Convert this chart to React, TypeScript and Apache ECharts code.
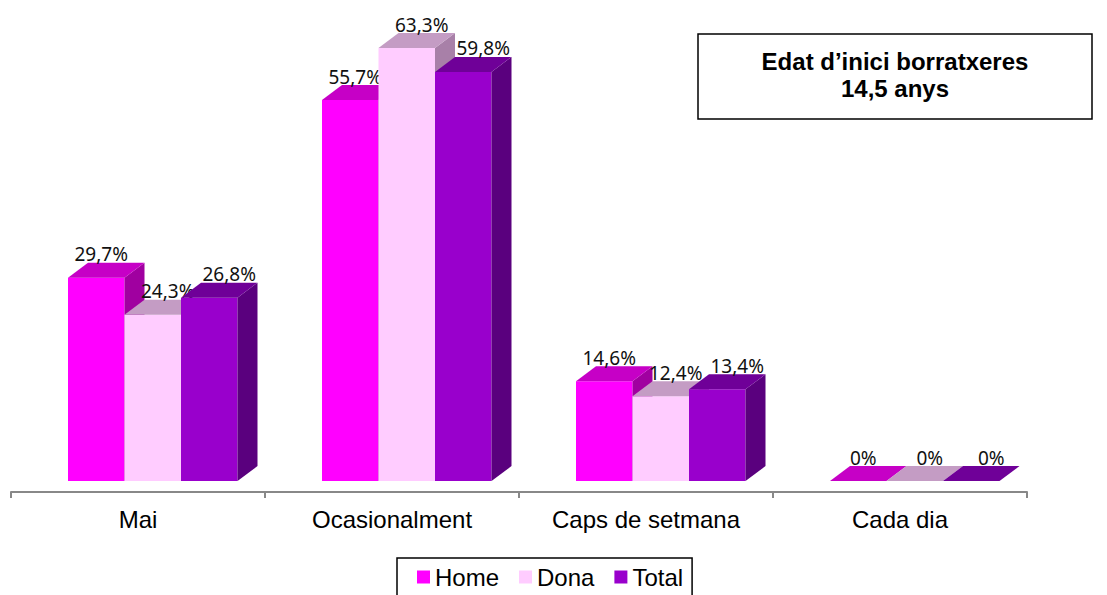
import React, { useEffect, useRef } from "react";
import * as echarts from "echarts";

const categories = ["Mai", "Ocasionalment", "Caps de setmana", "Cada dia"];
const seriesNames = ["Home", "Dona", "Total"];
const homeValues = [29.7, 55.7, 14.6, 0];
const donaValues = [24.3, 63.3, 12.4, 0];
const totalValues = [26.8, 59.8, 13.4, 0];
const titleLines = ["Edat d\u2019inici borratxeres", "14,5 anys"];

const FRONT = ["#FF00FF", "#FFCCFF", "#9900CC"];
const TOP = ["#C600C6", "#C49CC4", "#6F0098"];
const SIDE = ["#A000A0", "#A880A8", "#5A007E"];
const LABEL_SHIFT = [5, 15, 20];
const DX = 20;
const DY = 15;

function fmt(v: number): string {
  if (v === 0) return "0%";
  return v.toFixed(1).replace(".", ",") + "%";
}

function makeSeries(s: number, values: number[]) {
  return {
    type: "custom",
    name: seriesNames[s],
    itemStyle: { color: FRONT[s] },
    encode: { x: 0, y: 1 },
    data: values.map((v, i) => [i, v]),
    renderItem: (params: any, api: any) => {
      const idx = api.value(0);
      const val = api.value(1);
      const base = api.coord([idx, 0]);
      const top = api.coord([idx, val]);
      const band = api.size([1, 0])[0];
      const bw = (band * 56.5) / 254;
      const x0 = base[0] - (band * 70) / 254 + s * bw;
      const x1 = x0 + bw;
      const yb = base[1];
      const yt = top[1];
      const children: any[] = [];
      if (val > 0) {
        children.push({
          type: "rect",
          shape: { x: x0, y: yt, width: bw, height: yb - yt },
          style: { fill: FRONT[s] },
        });
        children.push({
          type: "polygon",
          shape: { points: [[x1, yt], [x1 + DX, yt - DY], [x1 + DX, yb - DY], [x1, yb]] },
          style: { fill: SIDE[s] },
        });
      }
      children.push({
        type: "polygon",
        shape: { points: [[x0, yt], [x0 + DX, yt - DY], [x1 + DX, yt - DY], [x1, yt]] },
        style: { fill: TOP[s] },
      });
      children.push({
        type: "text",
        style: {
          text: fmt(val),
          x: x0 + bw / 2 + LABEL_SHIFT[s],
          y: yt - DY + 1,
          align: "center",
          verticalAlign: "bottom",
          fontFamily: "Noto Sans",
          fontSize: 19,
          fill: "#111",
        },
      });
      return { type: "group", children };
    },
  };
}

export default function App() {
  const ref = useRef<HTMLDivElement>(null);
  useEffect(() => {
    if (!ref.current) return;
    const chart = echarts.init(ref.current, null, { renderer: "svg" });
    chart.setOption({
      animation: false,
      backgroundColor: "#ffffff",
      grid: { left: 11, width: 1016, top: 2.2, bottom: 114 },
      xAxis: {
        type: "category",
        data: categories,
        offset: 11,
        axisLine: { show: true, onZero: false, lineStyle: { color: "#888888", width: 2 } },
        axisTick: { show: true, length: 6, lineStyle: { color: "#888888", width: 2 } },
        axisLabel: {
          margin: 15,
          fontSize: 24,
          fontFamily: "Liberation Sans",
          color: "#000",
        },
      },
      yAxis: { type: "value", min: 0, max: 70, show: false },
      legend: {
        data: seriesNames,
        left: 397,
        top: 558,
        icon: "rect",
        itemWidth: 13,
        itemHeight: 13,
        itemGap: 20,
        padding: [7, 9, 20, 20],
        borderColor: "#000",
        borderWidth: 1.5,
        textStyle: { fontSize: 24, fontFamily: "Liberation Sans", color: "#000" },
      },
      graphic: [
        {
          type: "rect",
          shape: { x: 698, y: 34, width: 394, height: 85 },
          style: { fill: "#fff", stroke: "#000", lineWidth: 1.5 },
        },
        {
          type: "text",
          style: {
            text: titleLines[0],
            x: 895,
            y: 61,
            align: "center",
            verticalAlign: "middle",
            fontFamily: "Liberation Sans",
            fontWeight: "bold",
            fontSize: 24,
            fill: "#000",
          },
        },
        {
          type: "text",
          style: {
            text: titleLines[1],
            x: 895,
            y: 88,
            align: "center",
            verticalAlign: "middle",
            fontFamily: "Liberation Sans",
            fontWeight: "bold",
            fontSize: 24,
            fill: "#000",
          },
        },
      ],
      series: [makeSeries(0, homeValues), makeSeries(1, donaValues), makeSeries(2, totalValues)],
    });
    return () => chart.dispose();
  }, []);
  return (
    <div
      ref={ref}
      style={{ position: "absolute", left: 0, top: 0, width: 1107, height: 595 }}
    />
  );
}
